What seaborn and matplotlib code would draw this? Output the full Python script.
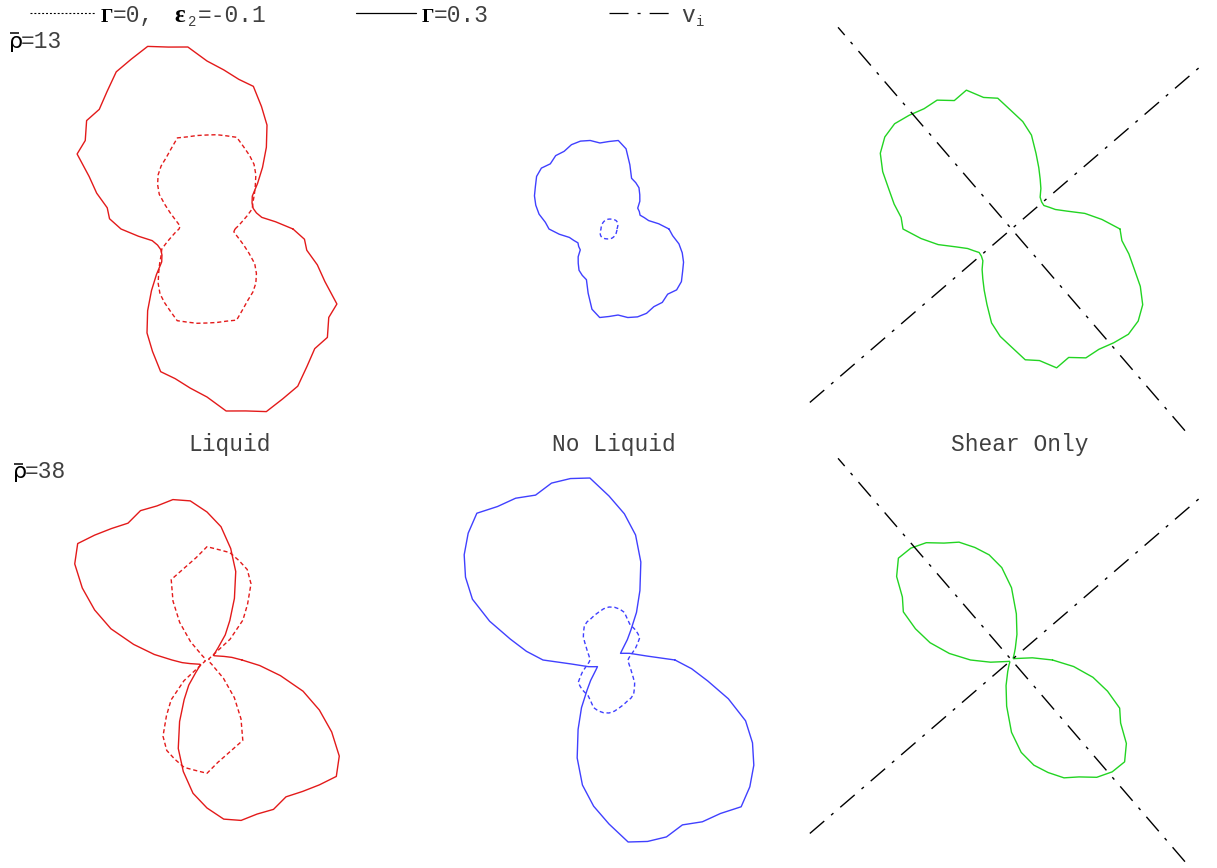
import numpy as np
import pandas as pd
import seaborn as sns
import matplotlib.pyplot as plt

sns.set_style("white")
plt.rcParams["lines.scale_dashes"] = False
plt.rcParams["font.family"] = ["Liberation Mono", "DejaVu Sans"]

W_PX, H_PX, DPI = 1217, 868, 100

# Angular sampling of the distributions (degrees); every curve is
# centrally symmetric, so only the half-turn 0..174 is stored.
angles = np.arange(0, 180, 6)

# rho = 13 row
liquid_13_gamma03 = [86, 69, 56, 52, 50.6, 52, 56, 68, 83, 101, 120, 134, 150, 153, 160,
                     168, 183, 186, 192, 186, 181.5, 170, 161, 162, 150.5, 150, 129, 116, 102, 98]
liquid_13_gamma0 = [28, 31.7, 36, 42, 49.5, 53, 58.5, 65, 73, 80, 85, 90, 96.4, 95.2, 94.8,
                    94, 94, 94.2, 95.8, 88, 82, 78, 73, 66.5, 59, 48.5, 40.5, 34.4, 30, 27]
noliq_13_gamma03 = [60, 50, 40.5, 37, 34, 35, 35.5, 41.5, 46, 51, 53.5, 55.5, 67.5, 82, 89,
                    87.5, 86.5, 90.5, 92.4, 92.3, 89.7, 90.7, 87.7, 91, 89.5, 85, 81.6, 77, 71.5, 64]
noliq_13_gamma0 = [8, 8.3, 8.7, 9.2, 9.7, 10.1, 10.5, 10.8, 11, 10.9, 10.7, 10.5, 10.3, 10.1, 10,
                   9.9, 9.8, 9.7, 9.6, 9.4, 9.2, 9, 8.8, 8.6, 8.4, 8.3, 8.1, 8, 8, 8]
shear_13 = [108.5, 91, 75, 58, 48, 43.5, 40, 40.5, 42.8, 50, 57.4, 67.1, 79.4, 96, 108,
            118, 131.5, 134.5, 146, 140.6, 148.8, 148.7, 153, 157.3, 156.6, 151.5, 141, 129, 120, 111]

# rho = 38 row
liquid_38_gamma03 = [35, 25, 17.3, 12.7, 10.1, 8.5, 7.9, 10.9, 16.7, 31, 45.7, 67.4, 93, 114, 134,
                     148, 160, 164, 162, 163.5, 158, 162.5, 168, 174, 163.5, 144, 123, 101, 75, 53]
liquid_38_gamma0 = [2, 2, 2, 2, 2, 2, 4, 31, 53.6, 69, 88, 99, 104.3, 109.8, 111,
                    113.3, 103, 96.4, 91.5, 88, 68, 46.5, 24.5, 6, 2, 2, 2, 2, 2, 2]
noliq_38_gamma03 = [66, 38, 27.4, 21.6, 16.5, 13.3, 15.8, 19.9, 27.4, 37.4, 55, 76, 103, 127.8, 147,
                    164, 183, 185.5, 186, 180.5, 186.8, 189.7, 197.5, 189.5, 179, 165.7, 149.5, 125.5, 101, 83]
noliq_38_gamma0 = [19, 20, 22, 25, 29, 33, 38, 39, 40, 40.5, 41.5, 45, 50, 52, 53,
                   53, 51.5, 49, 47, 45, 44, 42, 38, 34.5, 30, 26.5, 24, 22, 20.5, 19.5]
shear_38 = [41, 21, 7.8, 4.8, 3.5, 2.5, 2.5, 2.5, 2.5, 3, 4.3, 6.7, 12.3, 26.2, 46.4,
            72.3, 92.9, 107.5, 118.3, 129, 135, 145, 150.5, 152.2, 142, 126, 118.4, 101, 83.3, 62.5]

# Principal directions of the imposed shear (degrees) and their drawn half-length
vi_angles = [40.7, 130.7]
vi_half_length = 266

column_titles = ["Liquid", "No Liquid", "Shear Only"]
row_labels = ["13", "38"]

RED, BLUE, GREEN = "#e31a1a", "#4040ff", "#22d422"
DASHED = (0, (3, 2))
DOTTED = (0, (1.4, 1.4))
DASHDOT = (0, (13.7, 6.5, 2.2, 6.5))
TEXT_GREY = "#404040"


def closed_curve(r_half):
    r = np.asarray(r_half, dtype=float)
    r = np.concatenate([r, r, r[:1]])
    th = np.deg2rad(np.concatenate([angles, angles + 180, [360]]))
    return pd.DataFrame({"x": r * np.cos(th), "y": r * np.sin(th)})


def draw_curve(ax, r_half, color, ls):
    df = closed_curve(r_half)
    sns.lineplot(data=df, x="x", y="y", sort=False, estimator=None, ax=ax,
                 color=color, lw=1.0, linestyle=ls)


def draw_axes_lines(ax):
    for a in vi_angles:
        t = np.deg2rad(a)
        df = pd.DataFrame({"x": [-vi_half_length * np.cos(t), vi_half_length * np.cos(t)],
                           "y": [-vi_half_length * np.sin(t), vi_half_length * np.sin(t)]})
        sns.lineplot(data=df, x="x", y="y", sort=False, estimator=None, ax=ax,
                     color="black", lw=1.0, linestyle=DASHDOT)


fig = plt.figure(figsize=(W_PX / DPI, H_PX / DPI), dpi=DPI)


def panel_axes(cx, cy, left, right, up, down):
    ax = fig.add_axes([(cx - left) / W_PX, 1 - (cy + down) / H_PX,
                       (left + right) / W_PX, (up + down) / H_PX])
    ax.set_xlim(-left, right)
    ax.set_ylim(-down, up)
    ax.set_axis_off()
    return ax


col_cx = [207, 609, 1011.5]
row_cy = [229, 660]
col_ext = [(200, 200), (200, 200), (206.5, 188.5)]
row_ext = [(215, 205), (215, 206)]

rows = [
    [(liquid_13_gamma0, liquid_13_gamma03, RED), (noliq_13_gamma0, noliq_13_gamma03, BLUE), (None, shear_13, GREEN)],
    [(liquid_38_gamma0, liquid_38_gamma03, RED), (noliq_38_gamma0, noliq_38_gamma03, BLUE), (None, shear_38, GREEN)],
]

for ri, row in enumerate(rows):
    for ci, (r0, r3, color) in enumerate(row):
        ax = panel_axes(col_cx[ci], row_cy[ri], col_ext[ci][0], col_ext[ci][1],
                        row_ext[ri][0], row_ext[ri][1])
        if r0 is not None:
            draw_curve(ax, r0, color, DASHED)
        draw_curve(ax, r3, color, "-")
        if ci == 2:
            draw_axes_lines(ax)

# Overlay in pixel units for the key, row and column labels
ov = fig.add_axes([0, 0, 1, 1], zorder=-1)
ov.set_xlim(0, W_PX)
ov.set_ylim(H_PX, 0)
ov.set_axis_off()

MONO = 16.5
SERIF = dict(family="Liberation Serif", weight="bold", fontsize=14, color="black")
EPS = dict(family="Liberation Serif", weight="bold", fontsize=18, color="black")

# key
ov.plot([30, 95], [13, 13], color="black", lw=0.8, linestyle=DOTTED)
ov.text(101, 21.5, "Γ", va="baseline", **SERIF)
ov.text(113, 21.5, "=0,", va="baseline", fontsize=MONO, color=TEXT_GREY)
ov.text(174, 21.5, "ε", va="baseline", **EPS)
ov.text(188, 26.5, "2", va="baseline", fontsize=10, color=TEXT_GREY)
ov.text(198, 21.5, "=-0.1", va="baseline", fontsize=MONO, color=TEXT_GREY)

ov.plot([356, 416], [13, 13], color="black", lw=0.9)
ov.text(422, 21.5, "Γ", va="baseline", **SERIF)
ov.text(434, 21.5, "=0.3", va="baseline", fontsize=MONO, color=TEXT_GREY)

ov.plot([609, 669], [13, 13], color="black", lw=0.9, linestyle=DASHDOT)
ov.text(681, 21.5, "v", va="baseline", fontsize=MONO, color=TEXT_GREY)
ov.text(696, 26.5, "i", va="baseline", fontsize=10, color=TEXT_GREY)

# row labels: rho with an overbar, then the value
for (x_rho, x_val, base, bar_y), val in zip([(9, 21, 48, 33), (13, 25, 478, 464)], row_labels):
    ov.text(x_rho, base, "ρ", va="baseline", fontsize=16, color="black",
            family="DejaVu Sans")
    ov.plot([x_rho + 1, x_rho + 10], [bar_y, bar_y], color="black", lw=1.1,
            solid_capstyle="butt")
    ov.text(x_val, base, "=" + val, va="baseline", fontsize=MONO, color=TEXT_GREY)

# column titles
for x, title in zip([230, 614, 1019.5], column_titles):
    ov.text(x, 444, title, ha="center", va="center", fontsize=MONO, color=TEXT_GREY)

fig.savefig("out.png", dpi=DPI)
